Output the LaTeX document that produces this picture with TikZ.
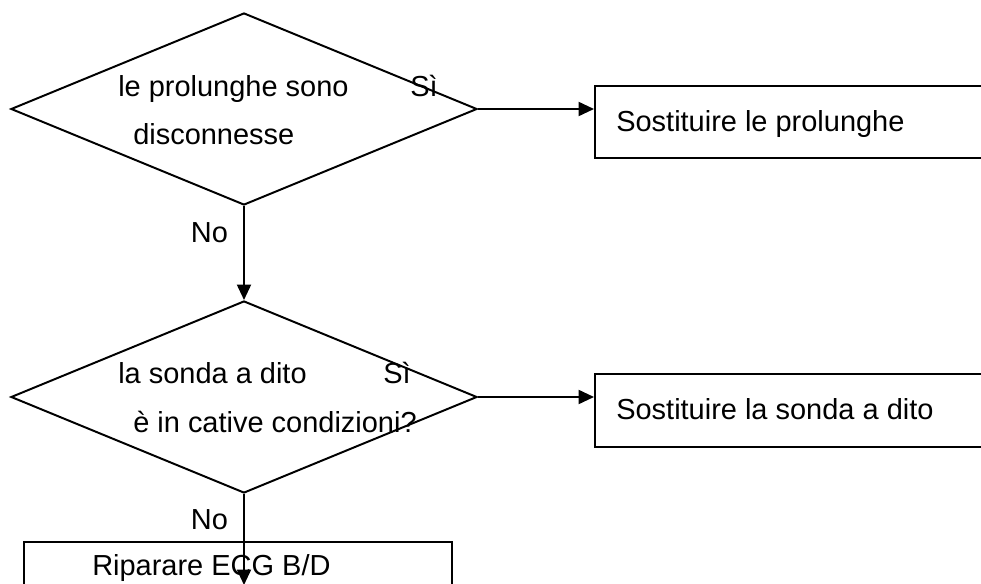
\documentclass[tikz,border=0pt]{standalone}
\usepackage{fontspec}
\setmainfont{Liberation Sans}
\usetikzlibrary{shapes.geometric,arrows.meta,positioning}
\tikzset{
  txt/.style={inner sep=0pt,anchor=base west,font=\fontsize{20.6pt}{24pt}\selectfont},
  decision/.style={draw,diamond,line width=1.4pt,inner sep=0pt,minimum width=11.65cm,minimum height=4.8cm},
  actionbox/.style={draw,rectangle,line width=1.4pt,inner sep=0pt,minimum width=10.5cm,minimum height=1.8cm},
  flow/.style={line width=1.4pt,-{Triangle[length=11pt,width=10pt]}}
}
\begin{document}
\begin{tikzpicture}[x=0.025cm,y=-0.025cm,line join=miter]
    \useasboundingbox (0,0) rectangle (981,584);
    \clip (0,0) rectangle (981,584);
    % first question
    \node[decision] (d1) at (244,109) {};
    \node[txt] (q1a) at (118,97) {le prolunghe sono};
    \node[txt] (q1b) at (133,145) {disconnesse};
    \node[txt] (si1) at (410,97) {Sì};
    \node[actionbox,anchor=north west] (b1) at (594,85) {};
    \node[txt] (t1) at (616,132) {Sostituire le prolunghe};
    \draw[flow] (d1.east) -- (d1.east -| b1.west);
    % second question
    \node[decision] (d2) at (244,397) {};
    \node[txt] (q2a) at (118,383) {la sonda a dito};
    \node[txt] (q2b) at (133,432) {è in cative condizioni?};
    \node[txt] (si2) at (383,383) {Sì};
    \node[actionbox,anchor=north west,minimum height=1.825cm] (b2) at (594,373) {};
    \node[txt] (t2) at (616,419) {Sostituire la sonda a dito};
    \draw[flow] (d2.east) -- (d2.east -| b2.west);
    \draw[flow] (d1.south) -- node[txt,anchor=east,pos=0.28,xshift=-15*0.025cm] (no1) {No} (d2.north);
    % repair
    \node[actionbox,anchor=north west,minimum width=10.7cm] (b3) at (23,541) {};
    \node[txt] (t3) at (92,575) {Riparare ECG B/D};
    \coordinate (b3end) at (244,585);
    \draw[flow] (d2.south) -- node[txt,anchor=east,pos=0.28,xshift=-15*0.025cm] (no2) {No} (b3end);
\end{tikzpicture}
\end{document}
